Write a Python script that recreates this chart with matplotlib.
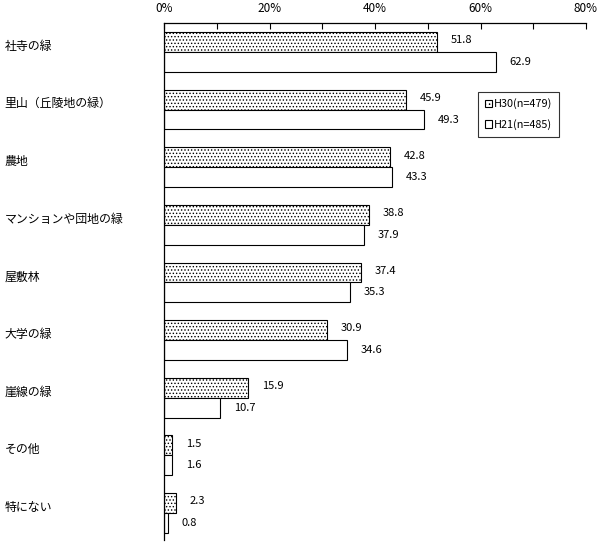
import matplotlib.pyplot as plt
import numpy as np
from matplotlib.patches import Patch

plt.rcParams['font.family'] = ['Noto Sans CJK JP', 'DejaVu Sans']
plt.rcParams['hatch.linewidth'] = 0.6

categories = ['社寺の緑', '里山（丘陵地の緑）', '農地', 'マンションや団地の緑', '屋敷林',
              '大学の緑', '崖線の緑', 'その他', '特にない']
h30 = [51.8, 45.9, 42.8, 38.8, 37.4, 30.9, 15.9, 1.5, 2.3]
h21 = [62.9, 49.3, 43.3, 37.9, 35.3, 34.6, 10.7, 1.6, 0.8]
series_labels = ['H30(n=479)', 'H21(n=485)']
xticks = [0, 20, 40, 60, 80]

fig = plt.figure(figsize=(6.0, 5.44), dpi=100)
ax = fig.add_axes([164 / 600, 4 / 544, 422 / 600, 517 / 544])

y = np.arange(len(categories))
bh = 0.345
ax.barh(y - bh / 2, h30, height=bh, color='white', edgecolor='black',
        linewidth=0.8, hatch='.....')
ax.barh(y + bh / 2, h21, height=bh, color='white', edgecolor='black',
        linewidth=0.8)

for i in range(len(categories)):
    ax.text(h30[i] + 2.6, y[i] - bh / 2 - 0.03, f'{h30[i]:.1f}', va='center',
            ha='left', fontsize=8)
    ax.text(h21[i] + 2.6, y[i] + bh / 2, f'{h21[i]:.1f}', va='center',
            ha='left', fontsize=8)
    ax.text(-0.378, y[i] - 0.1, categories[i], transform=ax.get_yaxis_transform(),
            va='center', ha='left', fontsize=8.6)

ax.set_xlim(0, 80)
ax.set_ylim(8.47, -0.503)
ax.xaxis.tick_top()
ax.set_xticks(xticks)
ax.set_xticklabels([f'{t}%' for t in xticks], fontsize=8.5)
ax.set_xticks(np.arange(10, 80, 20), minor=True)
ax.tick_params(axis='x', which='both', direction='in', length=4, width=0.8, pad=6)
ax.set_yticks([])
ax.spines['right'].set_visible(False)
ax.spines['bottom'].set_visible(False)
for s in ['top', 'left']:
    ax.spines[s].set_linewidth(0.9)

handles = [Patch(facecolor='white', edgecolor='black', hatch='....', linewidth=0.8),
           Patch(facecolor='white', edgecolor='black', linewidth=0.8)]
leg = fig.legend(handles, series_labels, loc='upper left',
                 bbox_to_anchor=(478 / 600, 1 - 92 / 544), fontsize=7.8,
                 frameon=True, fancybox=False, handlelength=0.7, handleheight=0.7,
                 handletextpad=0.2, borderpad=0.6, labelspacing=0.9,
                 borderaxespad=0)
leg.get_frame().set_edgecolor('black')
leg.get_frame().set_linewidth(0.8)

fig.savefig('out.png', dpi=100)
